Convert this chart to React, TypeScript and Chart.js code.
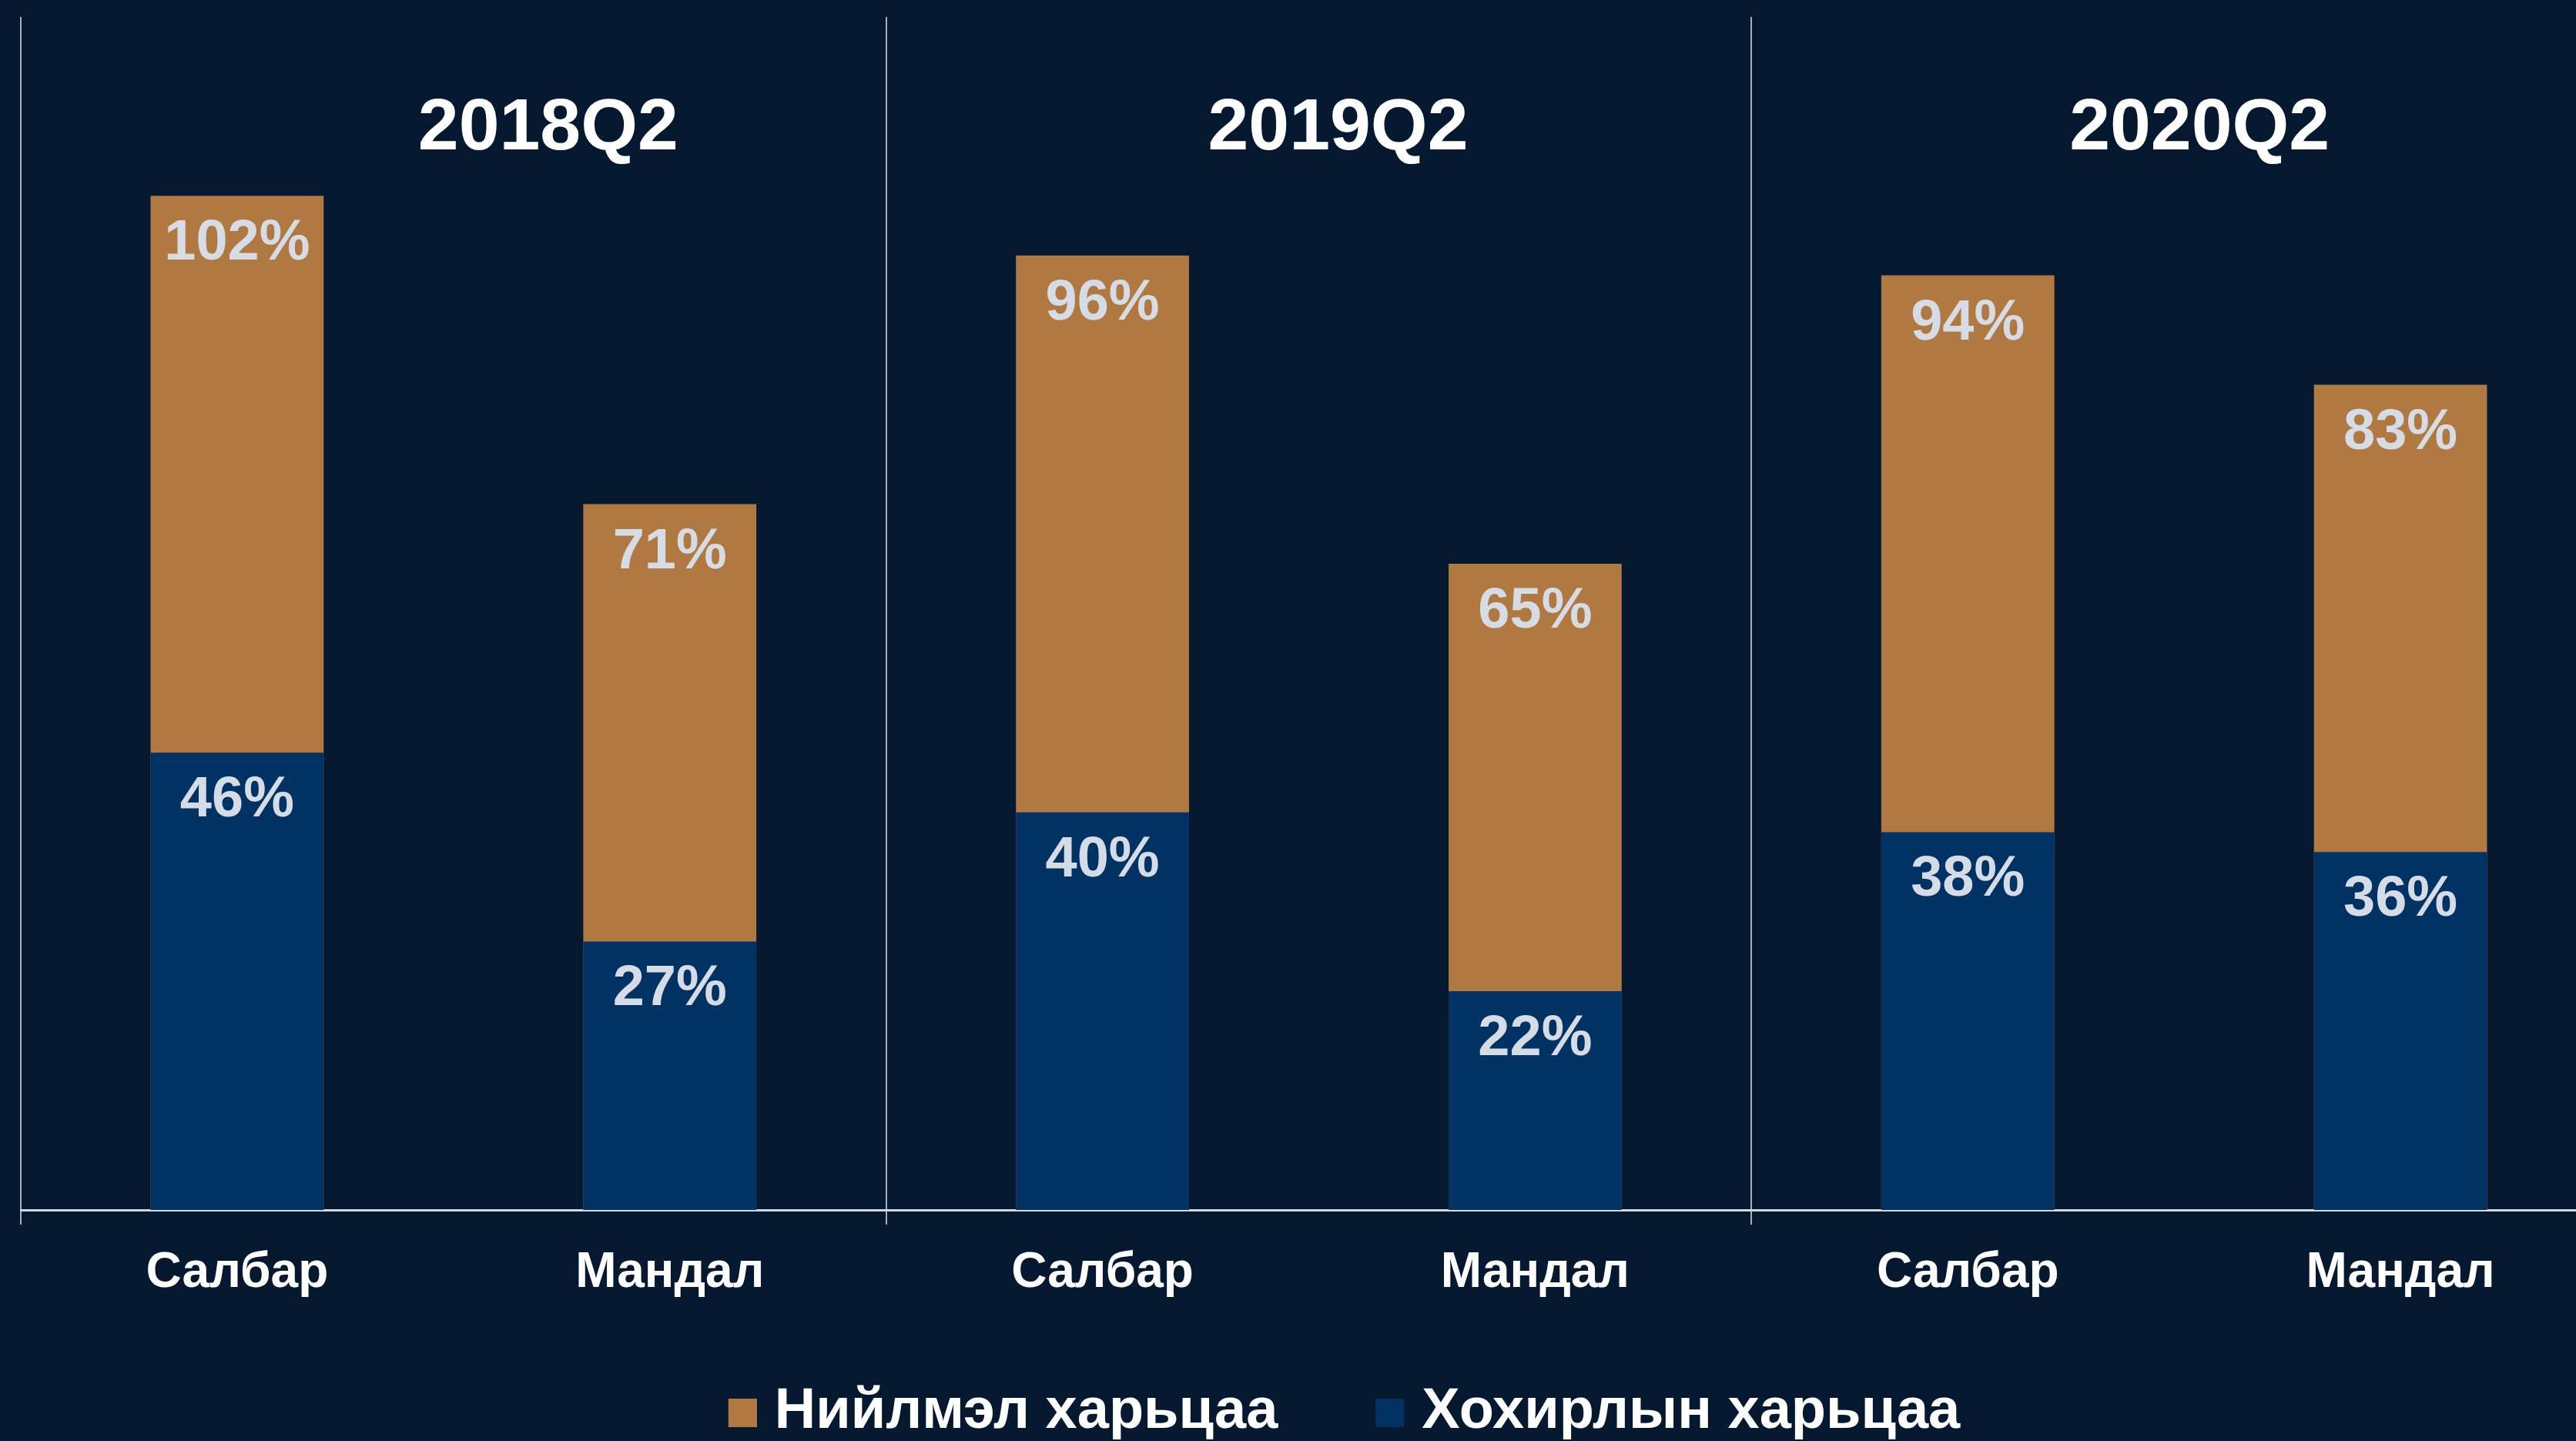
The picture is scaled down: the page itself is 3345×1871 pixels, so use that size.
import React, { useEffect, useRef } from "react";
import { Chart, registerables } from "chart.js";

Chart.register(...registerables);

// ---- data ----
const categories = ["Салбар", "Мандал", "Салбар", "Мандал", "Салбар", "Мандал"];
const periods = ["2018Q2", "2019Q2", "2020Q2"];
const combinedRatio = [102, 71, 96, 65, 94, 83];
const lossRatio = [46, 27, 40, 22, 38, 36];
const seriesNames = ["Нийлмэл харьцаа", "Хохирлын харьцаа"];
const yMin = 0;
const yMax = 120;

// ---- style ----
const FONT = "'Liberation Sans', Arial, Helvetica, sans-serif";
const BG = "#041930";
const ORANGE = "#b17942";
const BLUE = "#003264";
const LABEL_COLOR = "#d6dce6";
const GRID_COLOR = "#a9b0ba";
const AXIS_COLOR = "#d4d7dc";
const CANVAS_W = 3477;
const CANVAS_H = 1881;
const LEGEND_FONT = 74;
const LEGEND_BOX = 37;
const LEGEND_GAP = 23;

// legend swatch: square drawn at the right of a wider transparent image so the
// gap between swatch and text matches the reference
function makeSwatch(color: string) {
  const w = 2 * (LEGEND_BOX + LEGEND_FONT / 2 - LEGEND_GAP - LEGEND_BOX / 2);
  const c = document.createElement("canvas");
  c.width = Math.round(w);
  c.height = LEGEND_BOX;
  const g = c.getContext("2d")!;
  g.fillStyle = color;
  g.fillRect(c.width - LEGEND_BOX, 0, LEGEND_BOX, LEGEND_BOX);
  return c;
}

const valueLabels = {
  id: "valueLabels",
  afterDatasetsDraw(chart: any) {
    const ctx = chart.ctx;
    ctx.save();
    ctx.font = `bold 74px ${FONT}`;
    ctx.fillStyle = LABEL_COLOR;
    ctx.textAlign = "center";
    ctx.textBaseline = "alphabetic";
    chart.data.datasets.forEach((ds: any, i: number) => {
      const meta = chart.getDatasetMeta(i);
      meta.data.forEach((el: any, j: number) => {
        ctx.fillText(`${ds.data[j]}%`, el.x, el.y + 83);
      });
    });
    ctx.restore();
  },
};

const periodTitles = {
  id: "periodTitles",
  afterDraw(chart: any, _args: any, opts: any) {
    const ctx = chart.ctx;
    const x = chart.scales.x;
    const offsets: number[] = opts.offsets || [];
    ctx.save();
    ctx.font = `bold 95px ${FONT}`;
    ctx.fillStyle = "#ffffff";
    ctx.textAlign = "center";
    ctx.textBaseline = "alphabetic";
    periods.forEach((p, g) => {
      const l = x.getPixelForValue(2 * g);
      const r = x.getPixelForValue(2 * g + 1);
      ctx.fillText(p, (l + r) / 2 + (offsets[g] || 0), chart.chartArea.top + 172);
    });
    ctx.restore();
  },
};

export default function App() {
  const ref = useRef<HTMLCanvasElement | null>(null);

  useEffect(() => {
    if (!ref.current) return;
    const colors = [ORANGE, BLUE];
    const swatches = colors.map(makeSwatch);
    const chart = new Chart(ref.current, {
      type: "bar",
      data: {
        labels: categories,
        datasets: [
          {
            label: seriesNames[0],
            data: combinedRatio,
            backgroundColor: ORANGE,
            borderWidth: 0,
            grouped: false,
            order: 2,
            categoryPercentage: 1,
            barPercentage: 0.4,
          },
          {
            label: seriesNames[1],
            data: lossRatio,
            backgroundColor: BLUE,
            borderWidth: 0,
            grouped: false,
            order: 1,
            categoryPercentage: 1,
            barPercentage: 0.4,
          },
        ] as any,
      },
      options: {
        responsive: false,
        animation: false,
        devicePixelRatio: 1,
        layout: { padding: { top: 22, left: 0, right: 0, bottom: 0 } },
        scales: {
          x: {
            offset: true,
            grid: {
              offset: true,
              display: true,
              drawOnChartArea: true,
              drawTicks: true,
              tickLength: 19,
              lineWidth: 2,
              color: (c: any) => (c.index % 2 === 0 ? GRID_COLOR : "rgba(0,0,0,0)"),
            },
            border: { display: true, color: AXIS_COLOR, width: 3 },
            ticks: {
              color: "#ffffff",
              padding: 25,
              maxRotation: 0,
              autoSkip: false,
              font: { family: FONT, size: 64, weight: "bold" },
            },
            afterFit: (s: any) => {
              s.height = 113;
            },
          },
          y: {
            min: yMin,
            max: yMax,
            position: "left",
            grid: { display: false },
            border: { display: false },
            ticks: { display: false },
            afterFit: (s: any) => {
              s.width = 27;
            },
          },
          y2: {
            min: yMin,
            max: yMax,
            position: "right",
            grid: { display: false },
            border: { display: false },
            ticks: { display: false },
            afterFit: (s: any) => {
              s.width = CANVAS_W - 3398;
            },
          },
        },
        plugins: {
          legend: {
            display: true,
            position: "bottom",
            align: "center",
            labels: {
              color: "#ffffff",
              font: { family: FONT, size: LEGEND_FONT, weight: "bold" },
              boxWidth: LEGEND_BOX,
              boxHeight: LEGEND_BOX,
              usePointStyle: true,
              padding: 113,
              generateLabels: (ch: any) => {
                const items = Chart.defaults.plugins.legend.labels.generateLabels(ch);
                return items.map((it: any) => ({ ...it, pointStyle: swatches[it.datasetIndex] }));
              },
              sort: (a: any, b: any) => a.datasetIndex - b.datasetIndex,
            },
          },
          tooltip: { enabled: false },
          title: { display: false },
          periodTitles: { offsets: [123, 25, 20] },
        } as any,
      },
      plugins: [valueLabels, periodTitles],
    });
    return () => chart.destroy();
  }, []);

  return (
    <div
      style={{
        position: "absolute",
        left: 0,
        top: 0,
        width: 3345,
        height: 1871,
        overflow: "hidden",
        background: BG,
      }}
    >
      <canvas ref={ref} width={CANVAS_W} height={CANVAS_H} style={{ display: "block" }} />
    </div>
  );
}
